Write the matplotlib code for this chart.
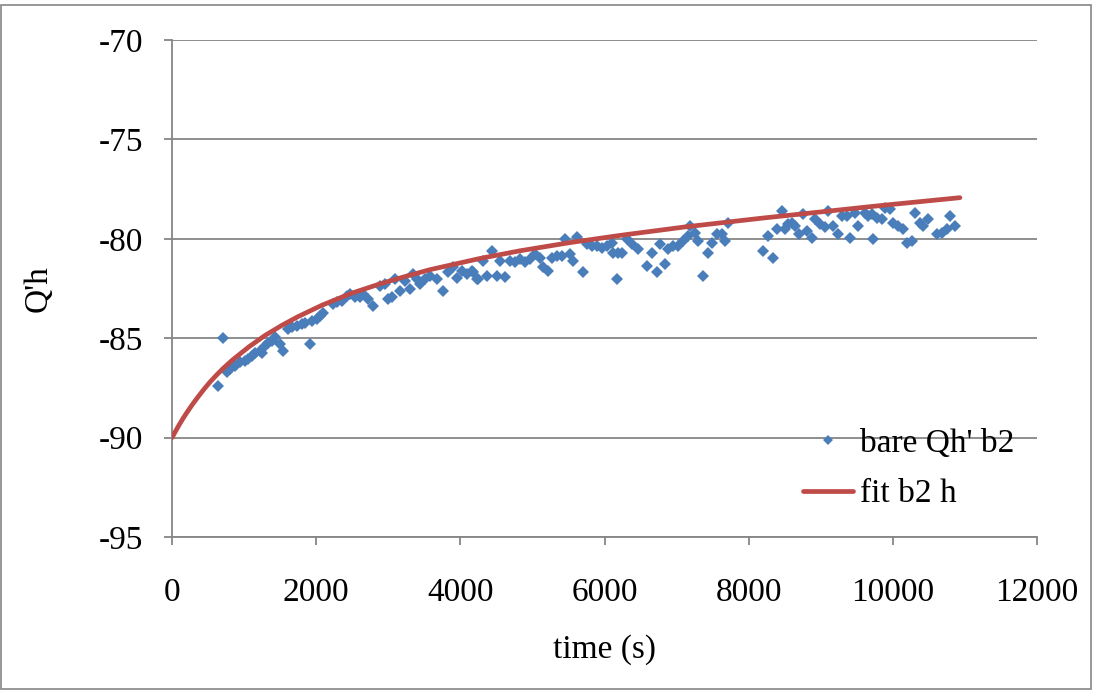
import matplotlib.pyplot as plt
from matplotlib.patches import Rectangle

# measured points (time in s, Q'h)
t_data = [643, 712, 758, 805, 874, 943, 1013, 1059, 1105, 1151, 1221, 1244, 1290, 1336,
          1383, 1429, 1498, 1544, 1614, 1660, 1730, 1799, 1845, 1914, 1937, 2007, 2053,
          2099, 2238, 2284, 2354, 2423, 2469, 2539, 2608, 2654, 2723, 2793, 2886, 2955,
          3001, 3047, 3094, 3163, 3232, 3302, 3348, 3394, 3441, 3510, 3579, 3672, 3764,
          3833, 3902, 3949, 4018, 4088, 4157, 4180, 4227, 4250, 4319, 4366, 4435, 4505,
          4550, 4620, 4689, 4758, 4828, 4897, 4966, 5036, 5105, 5151, 5220, 5267, 5337,
          5406, 5452, 5521, 5567, 5623, 5697, 5753, 5822, 5892, 5961, 6030, 6100, 6123,
          6169, 6193, 6239, 6308, 6378, 6470, 6586, 6655, 6725, 6770, 6840, 6886, 6955,
          7024, 7093, 7163, 7186, 7256, 7302, 7371, 7440, 7487, 7556, 7626, 7672, 7718,
          8203, 8272, 8333, 8389, 8459, 8504, 8550, 8597, 8643, 8703, 8758, 8814, 8874,
          8920, 8990, 9059, 9105, 9174, 9235, 9290, 9360, 9406, 9475, 9521, 9614, 9660,
          9707, 9730, 9776, 9846, 9891, 9961, 10007, 10076, 10145, 10192, 10262, 10308,
          10377, 10423, 10493, 10608, 10678, 10747, 10793, 10862]
q_data = [-87.4, -85.0, -86.72, -86.55, -86.39, -86.22, -86.14, -86.05, -85.88, -85.72,
          -85.63, -85.72, -85.38, -85.22, -85.13, -84.96, -85.3, -85.63, -84.54, -84.46,
          -84.37, -84.29, -84.21, -85.3, -84.12, -84.04, -83.87, -83.71, -83.29, -83.2,
          -83.12, -82.87, -82.78, -82.95, -82.95, -82.78, -83.03, -83.37, -82.36, -82.28,
          -83.03, -82.95, -82.03, -82.62, -82.11, -82.53, -81.78, -82.03, -82.28, -82.03,
          -81.86, -82.03, -82.62, -81.69, -81.44, -81.95, -81.61, -81.78, -81.61, -81.69,
          -82.03, -82.03, -81.11, -81.86, -80.6, -81.86, -81.11, -81.91, -81.11, -81.19,
          -81.02, -81.19, -81.02, -80.77, -80.94, -81.44, -81.61, -80.94, -80.85, -80.85,
          -80.02, -80.77, -81.11, -79.9, -81.69, -80.27, -80.35, -80.35, -80.44, -80.35,
          -80.19, -80.69, -82.03, -80.69, -80.69, -80.02, -80.27, -80.52, -81.36, -80.69,
          -81.69, -80.27, -81.27, -80.52, -80.35, -80.35, -80.1, -79.85, -79.35, -79.69,
          -80.1, -81.86, -80.69, -80.19, -79.77, -79.77, -80.1, -79.18,
          -80.6, -79.85, -80.94, -79.51, -78.59, -79.51, -79.26, -79.18, -79.35, -79.77,
          -78.76, -79.6, -79.97, -79.01, -79.26, -79.43, -78.59, -79.35, -79.77, -78.84,
          -78.84, -79.97, -78.68, -79.35, -78.68, -78.84, -78.76, -80.02, -78.93, -79.01,
          -78.43, -78.51, -79.18, -79.35, -79.51, -80.19, -80.1, -78.68, -79.18, -79.35,
          -79.01, -79.77, -79.69, -79.51, -78.84, -79.35]

# fit curve
t_fit = [0, 50, 100, 150, 200, 275, 350, 440, 525, 610, 700, 830, 1060, 1290, 1520,
         1750, 2080, 2480, 2890, 3230, 3580, 4270, 4830, 5520, 6210, 7120, 8160, 9820,
         10930]
q_fit = [-90, -89.67, -89.35, -89.05, -88.77, -88.37, -88.0, -87.58, -87.21, -86.88,
         -86.55, -86.12, -85.45, -84.86, -84.36, -83.91, -83.34, -82.75, -82.26, -81.9,
         -81.55, -80.99, -80.6, -80.19, -79.83, -79.4, -78.97, -78.33, -77.93]

plt.rcParams['font.family'] = ['Liberation Serif', 'DejaVu Serif']
plt.rcParams['axes.unicode_minus'] = False

dpi = 100
fig = plt.figure(figsize=(1093 / dpi, 690 / dpi), dpi=dpi)
ax = fig.add_axes([0.1574, 0.2217, 0.7914, 0.7203])

ax.plot(t_data, q_data, linestyle='none', marker='D', markersize=6.5,
        color='#4a7ebb', markeredgewidth=0, label="bare Qh' b2", zorder=3)
ax.plot(t_fit, q_fit, color='#be4b48', linewidth=3.4, label='fit b2 h', zorder=4,
        solid_capstyle='round')

ax.set_xlim(0, 12000)
ax.set_ylim(-95, -70)
ax.set_xticks(range(0, 12001, 2000))
ax.set_yticks(range(-95, -69, 5))
ax.yaxis.grid(True, color='#868686', linewidth=1.3, zorder=1)
ax.set_axisbelow(True)

for s in ['top', 'right']:
    ax.spines[s].set_visible(False)
for s in ['left', 'bottom']:
    ax.spines[s].set_color('#868686')
    ax.spines[s].set_linewidth(1.3)
ax.tick_params(axis='both', direction='out', length=6, width=1.3, color='#868686',
               labelsize=24)
ax.tick_params(axis='x', pad=23)
ax.tick_params(axis='y', pad=15)

ax.set_xlabel('time (s)', fontsize=24, labelpad=19)
ax.set_ylabel("Q'h", fontsize=24, labelpad=32)

leg = ax.legend(loc='upper left', bbox_to_anchor=(0.7295, 0.219), frameon=False,
                fontsize=24, handlelength=1.5, handletextpad=0.2, markerscale=0.8,
                labelspacing=0.6, borderpad=0, borderaxespad=0)

fig.patches.append(Rectangle((0.001, 0.001), 0.997, 0.992, transform=fig.transFigure,
                             fill=False, edgecolor='#868686', linewidth=1.2))

fig.savefig('out.png', dpi=dpi)
